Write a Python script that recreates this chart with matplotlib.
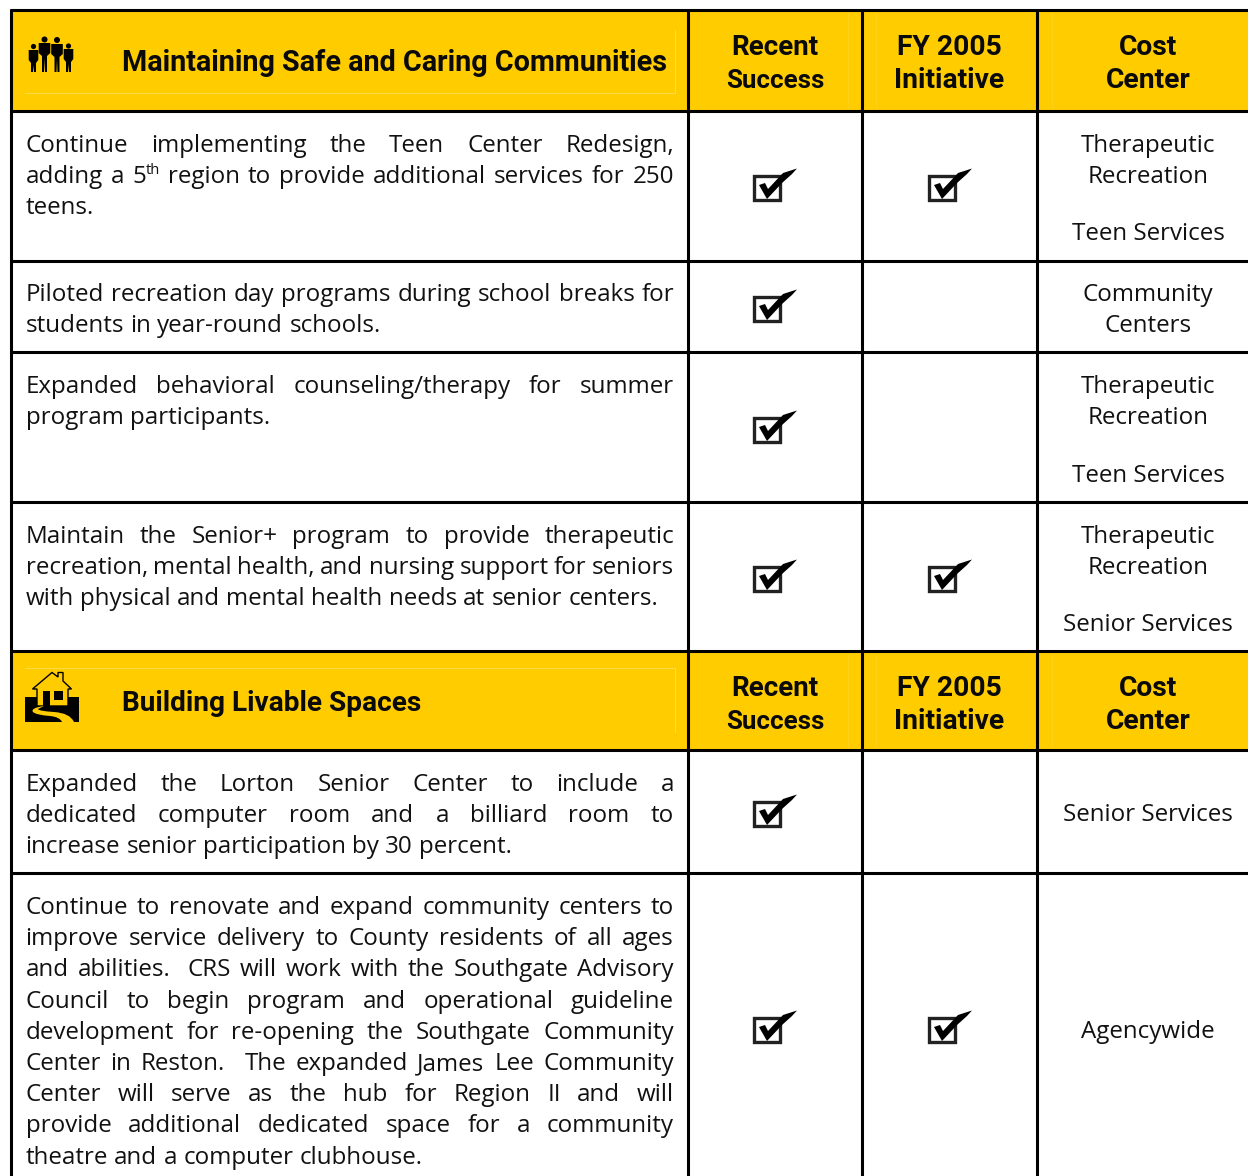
import matplotlib
matplotlib.use('Agg')
import matplotlib.pyplot as plt
from matplotlib.patches import Rectangle, Polygon, Circle, PathPatch
from matplotlib.path import Path

YELLOW = '#FFCC00'
FAINT = '#FFDB4D'
FAINT_V = '#FFD226'
BODY_FONT = 'Open Sans'
HEAD_FONT = 'Roboto'

# table geometry
col_x = [11, 688, 862, 1037, 1248]
row_y = [10, 111, 261, 352, 502, 651, 750, 873, 1176]
header_rows = [0, 5]

header_titles = ['Maintaining Safe and Caring Communities', 'Building Livable Spaces']
title_sizes = [20.7, 20.2]
title_base = [61, 60]
header_cols = [['Recent', 'Success'], ['FY 2005', 'Initiative'], ['Cost', 'Center']]
header_col_sizes = [[20.0, 18.6], [20.3, 20.3], [20.3, 20.3]]

row1_text = ['Continue implementing the Teen Center Redesign,',
             'adding a 5^th region to provide additional services for 250',
             'teens.']
row2_text = ['Piloted recreation day programs during school breaks for',
             'students in year-round schools.']
row3_text = ['Expanded behavioral counseling/therapy for summer',
             'program participants.']
row4_text = ['Maintain the Senior+ program to provide therapeutic',
             'recreation, mental health, and nursing support for seniors',
             'with physical and mental health needs at senior centers.']
row5_text = ['Expanded the Lorton Senior Center to include a',
             'dedicated computer room and a billiard room to',
             'increase senior participation by 30 percent.']
row6_text = ['Continue to renovate and expand community centers to',
             'improve service delivery to County residents of all ages',
             'and abilities.  CRS will work with the Southgate Advisory',
             'Council to begin program and operational guideline',
             'development for re-opening the Southgate Community',
             'Center in Reston.  The expanded James Lee Community',
             'Center will serve as the hub for Region II and will',
             'provide additional dedicated space for a community',
             'theatre and a computer clubhouse.']

body_rows = [row1_text, row2_text, row3_text, row4_text, row5_text, row6_text]
body_first_y = [152, 301, 393, 543, 791, 914]
line_step = [31, 31, 31, 31, 31, 31.2]

recent_success = [True, True, True, True, True, True]
fy2005_init = [True, False, False, True, False, True]
check_y = [187, 308, 429, 578, 813, 1029]

cost_rows = [
    [('Therapeutic', 152), ('Recreation', 183), ('Teen Services', 240)],
    [('Community', 301), ('Centers', 332)],
    [('Therapeutic', 393), ('Recreation', 424), ('Teen Services', 482)],
    [('Therapeutic', 543), ('Recreation', 574), ('Senior Services', 631)],
    [('Senior Services', 821)],
    [('Agencywide', 1038)],
]

fig = plt.figure(figsize=(12.48, 11.76), dpi=100)
ax = fig.add_axes([0, 0, 1, 1])
ax.set_xlim(0, 1248)
ax.set_ylim(1176, 0)
ax.axis('off')
renderer = fig.canvas.get_renderer()

BODY_SIZE = 17.35
SUP_SIZE = 10.5


def text_w(s, size=BODY_SIZE):
    t = ax.text(0, 0, s, fontsize=size, family=BODY_FONT)
    w = t.get_window_extent(renderer).width
    t.remove()
    return w


def word_w(w):
    if not w:
        return 0
    if '^' in w:
        base, sup = w.split('^')
        return text_w(base) + text_w(sup, SUP_SIZE)
    return text_w(w)


def draw_word(x, y, w):
    if '^' in w:
        base, sup = w.split('^')
        ax.text(x, y, base, fontsize=BODY_SIZE, family=BODY_FONT, color='#111111', va='baseline', ha='left')
        ax.text(x + text_w(base), y - 9, sup, fontsize=SUP_SIZE, family=BODY_FONT, color='#111111',
                va='baseline', ha='left')
    else:
        ax.text(x, y, w, fontsize=BODY_SIZE, family=BODY_FONT, color='#111111', va='baseline', ha='left')


def draw_justified(line, y, left, right, justify):
    words = line.split(' ')
    space = text_w('a b') - text_w('ab')
    widths = [word_w(w) for w in words]
    gaps = len(words) - 1
    gap = space
    if justify and gaps:
        gap = (right - left - sum(widths)) / gaps
    x = left
    for w, wd in zip(words, widths):
        if w:
            draw_word(x, y, w)
        x += wd + gap


def draw_family():
    # small people icon in the first header
    for cx, head_y, r, top, bot, w in [(33.5, 46.5, 2.6, 50, 72, 4.8), (44.5, 39.5, 3, 43, 72, 5.8),
                                       (57, 40, 3, 44, 72, 5.8), (68.5, 46, 2.6, 49, 72, 4.8)]:
        ax.add_patch(Circle((cx, head_y), r, color='black', lw=0))
        ax.add_patch(Polygon([(cx - w, top), (cx + w, top), (cx + w, top + 10), (cx + 2.5, top + 13),
                              (cx + 2.5, bot), (cx + 0.5, bot), (cx, top + 15), (cx - 0.5, bot),
                              (cx - 2.5, bot), (cx - 2.5, top + 13), (cx - w, top + 10)],
                             color='black', lw=0))


def draw_house():
    ax.add_patch(Rectangle((25, 697), 54, 25, color='black', lw=0))
    ax.add_patch(Polygon([(37, 689), (32.5, 689), (52, 672.5), (58, 677), (58, 672.5), (63, 672.5), (63, 681),
                          (71.5, 689), (68, 689), (68, 706), (37, 706)], fc=YELLOW, ec='black', lw=1))
    ax.add_patch(Rectangle((43, 691), 7, 15, color='black', lw=0))
    ax.add_patch(Rectangle((54, 691), 9, 9, color='black', lw=0))
    road = Path([(44, 706), (30, 708), (33, 712), (36, 715), (50, 716), (60, 717), (62, 722),
                 (74, 722), (70, 713), (54, 712), (38, 711), (38, 709), (44, 706)],
                [Path.MOVETO, Path.CURVE3, Path.CURVE3, Path.CURVE3, Path.CURVE3, Path.CURVE3, Path.CURVE3,
                 Path.LINETO, Path.CURVE3, Path.CURVE3, Path.CURVE3, Path.CURVE3, Path.LINETO])
    ax.add_patch(PathPatch(road, fc=YELLOW, ec='none'))


def draw_check(cx, cy):
    ax.add_patch(Rectangle((cx - 21, cy - 11), 25.5, 24, fc='white', ec='#222222', lw=2.4, zorder=3))
    ax.add_patch(Polygon([(cx - 16, cy - 2), (cx - 10, cy - 4), (cx - 7, cy + 2), (cx + 8, cy - 14),
                          (cx + 22, cy - 18.5), (cx + 17, cy - 13), (cx + 7, cy - 4), (cx - 8, cy + 12)],
                         color='black', lw=0, zorder=4))


# yellow header bands
for h, title, t_size, t_base in zip(header_rows, header_titles, title_sizes, title_base):
    top, bot = row_y[h], row_y[h + 1]
    ax.add_patch(Rectangle((col_x[0], top), col_x[-1] - col_x[0], bot - top, color=YELLOW, lw=0))
    ax.text(122, top + t_base, title, fontsize=t_size, family=HEAD_FONT, weight='bold',
            color='#0a0a0a', va='baseline', ha='left')
    for i, lines in enumerate(header_cols):
        cx = (col_x[i + 1] + col_x[i + 2]) / 2 if i < 2 else 1148
        ax.text(cx, top + 45, lines[0], fontsize=header_col_sizes[i][0], family=HEAD_FONT, weight='bold',
                color='#0a0a0a', ha='center', va='baseline')
        ax.text(cx, top + 78, lines[1], fontsize=header_col_sizes[i][1], family=HEAD_FONT, weight='bold',
                color='#0a0a0a', ha='center', va='baseline')

# faint inner lines in the header bands
ax.plot([25, 675, 675], [93, 93, 30], color=FAINT, lw=0.7)
ax.plot([25, 675, 675], [668, 668, 732], color=FAINT, lw=0.7)
for x in [848, 876, 1052]:
    ax.plot([x, x], [13, 109], color=FAINT_V, lw=0.5)
    ax.plot([x, x], [654, 748], color=FAINT_V, lw=0.5)

draw_family()
draw_house()

# body text
for lines, y0, step in zip(body_rows, body_first_y, line_step):
    for i, line in enumerate(lines):
        draw_justified(line, y0 + i * step, 25.5, 674, i < len(lines) - 1)

for cells in cost_rows:
    for label, y in cells:
        ax.text(1148, y, label, fontsize=BODY_SIZE, family=BODY_FONT, color='#111111', ha='center', va='baseline')

# check marks
for y, rec, fy in zip(check_y, recent_success, fy2005_init):
    if rec:
        draw_check(775, y)
    if fy:
        draw_check(950, y)

# grid lines
for y in row_y[:-1]:
    ax.plot([col_x[0] - 1.5, col_x[-1]], [y, y], color='black', lw=2.2, solid_capstyle='butt', zorder=5)
for x in col_x[:-1]:
    ax.plot([x, x], [row_y[0] - 1.5, row_y[-1]], color='black', lw=2.2, solid_capstyle='butt', zorder=5)

fig.savefig('out.png', dpi=100, facecolor='white')
